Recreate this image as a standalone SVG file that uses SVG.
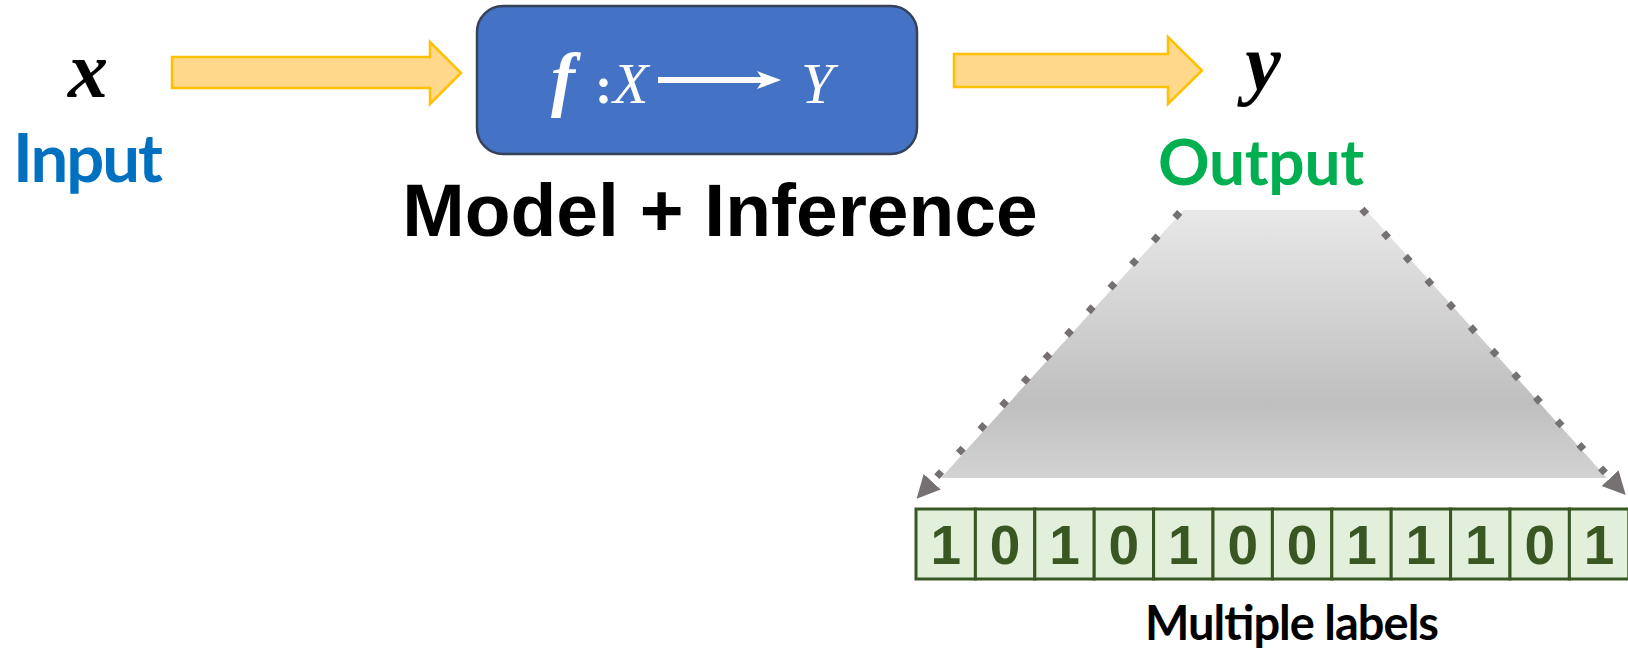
<svg xmlns="http://www.w3.org/2000/svg" width="1628" height="652" viewBox="0 0 1628 652">
  <style>
    .fat { fill: #FFD88C; stroke: #FFC000; stroke-width: 2.5; stroke-linejoin: miter; }
    .math { font-family: "Liberation Serif", serif; font-style: italic; font-weight: bold; fill: #000; }
    .mathw { font-family: "Liberation Serif", serif; font-style: italic; fill: #fff; }
    .lbl { font-family: Lato, "Open Sans", sans-serif; font-weight: bold; }
    .cell { fill: #E2EFDA; stroke: #385723; stroke-width: 3; }
    .dig { font-family: "Liberation Sans", Arial, sans-serif; font-weight: bold; font-size: 55px; fill: #385723; text-anchor: middle; }
    .dot { fill: none; stroke: #767171; stroke-width: 7; stroke-dasharray: 7 25; }
  </style>
  <defs>
    <linearGradient id="trap" x1="0" y1="0" x2="0" y2="1">
      <stop offset="0" stop-color="#E8E8E8"/>
      <stop offset="0.72" stop-color="#BFBFBF"/>
      <stop offset="1" stop-color="#D3D3D3"/>
    </linearGradient>
    <marker id="ah" markerUnits="userSpaceOnUse" markerWidth="24" markerHeight="24" refX="0" refY="11.5" orient="auto">
      <path d="M0,0 L23,11.5 L0,23 z" fill="#767171"/>
    </marker>
  </defs>

  <g id="input">
    <text class="math" x="88" y="97" font-size="80" text-anchor="middle">x</text>
    <text class="lbl" x="13" y="182" font-size="67" fill="#0070C0" textLength="150">Input</text>
  </g>

  <g id="model">
    <rect x="477" y="6" width="440" height="148" rx="26" ry="26" fill="#4472C4" stroke="#35425A" stroke-width="2.5"/>
    <text class="mathw" x="551" y="103" font-size="72" font-weight="bold">f</text>
    <text x="595" y="103" font-family="Liberation Serif, serif" font-weight="bold" font-size="52" fill="#fff">:</text>
    <text class="mathw" x="613" y="103" font-size="58">X</text>
    <line x1="658" y1="80" x2="770" y2="80" stroke="#fff" stroke-width="6"/>
    <path d="M757,71 L781,80 L757,89 L763,80 z" fill="#fff"/>
    <text class="mathw" x="801" y="103" font-size="58">Y</text>
    <text x="720" y="236" font-family="Liberation Sans, Arial, sans-serif" font-weight="bold" font-size="75" text-anchor="middle" fill="#000">Model + Inference</text>
  </g>

  <g id="output">
    <text class="math" x="1263" y="90" font-size="80" text-anchor="middle">y</text>
    <text class="lbl" x="1158" y="185" font-size="64" fill="#00B050" textLength="206">Output</text>
  </g>

  <g id="expansion">
    <polygon points="1183.5,210 1366,210 1607,478 941,478" fill="url(#trap)"/>
  </g>

  <g id="labels">
    <rect class="cell" x="916" y="509" width="59.4" height="70"/>
    <rect class="cell" x="975.4" y="509" width="59.4" height="70"/>
    <rect class="cell" x="1034.8" y="509" width="59.4" height="70"/>
    <rect class="cell" x="1094.2" y="509" width="59.4" height="70"/>
    <rect class="cell" x="1153.6" y="509" width="59.4" height="70"/>
    <rect class="cell" x="1213" y="509" width="59.4" height="70"/>
    <rect class="cell" x="1272.4" y="509" width="59.4" height="70"/>
    <rect class="cell" x="1331.8" y="509" width="59.4" height="70"/>
    <rect class="cell" x="1391.2" y="509" width="59.4" height="70"/>
    <rect class="cell" x="1450.6" y="509" width="59.4" height="70"/>
    <rect class="cell" x="1510" y="509" width="59.4" height="70"/>
    <rect class="cell" x="1569.4" y="509" width="59.4" height="70"/>
    <text class="dig" x="945.7" y="564">1</text>
    <text class="dig" x="1005.1" y="564">0</text>
    <text class="dig" x="1064.5" y="564">1</text>
    <text class="dig" x="1123.9" y="564">0</text>
    <text class="dig" x="1183.3" y="564">1</text>
    <text class="dig" x="1242.7" y="564">0</text>
    <text class="dig" x="1302.1" y="564">0</text>
    <text class="dig" x="1361.5" y="564">1</text>
    <text class="dig" x="1420.9" y="564">1</text>
    <text class="dig" x="1480.3" y="564">1</text>
    <text class="dig" x="1539.7" y="564">0</text>
    <text class="dig" x="1599.1" y="564">1</text>
    <text class="lbl" x="1145" y="640" font-size="47" fill="#000" textLength="294">Multiple labels</text>
  </g>

  <g id="connectors">
    <path class="fat" d="M172,57 L430,57 L430,42 L461,73 L430,104 L430,88 L172,88 z"/>
    <path class="fat" d="M954,54 L1168,54 L1168,37 L1202,70.5 L1168,104 L1168,87 L954,87 z"/>
    <path class="dot" d="M1179.7,212.4 L932.2,481.7" marker-end="url(#ah)"/>
    <path class="dot" d="M1361.9,209.1 L1610.1,478.1" marker-end="url(#ah)"/>
  </g>
</svg>
